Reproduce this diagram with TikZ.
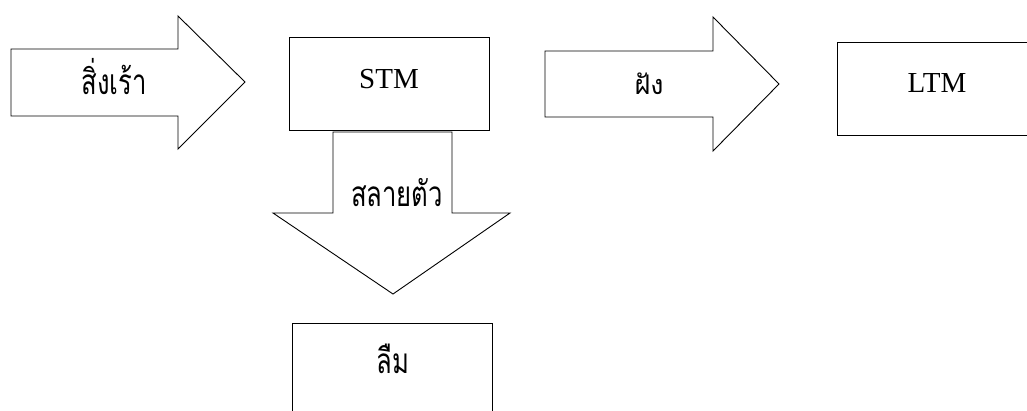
\documentclass[tikz,border=0pt]{standalone}
\usepackage{fontspec}
\setmainfont{Liberation Serif}
\newfontfamily\thaifont[Script=Thai]{Loma}
\newcommand{\tallthai}[1]{\scalebox{0.95}[1.3]{#1}}
\tikzset{
  shp/.style={draw=black, line width=0.9pt, fill=white, line join=miter},
  thai/.style={font=\thaifont\fontsize{27}{30}\selectfont, inner sep=0pt, anchor=base},
  lat/.style={font=\fontsize{29}{32}\selectfont, inner sep=0pt, anchor=base},
}
\begin{document}
\begin{tikzpicture}[x=1pt,y=-1pt]
\useasboundingbox (0,0) rectangle (1027,410);
\clip (0,0) rectangle (1027,410);
% left arrow
\draw[shp] (11,49) -- (178,49) -- (178,16) -- (245,82) -- (178,149) -- (178,116) -- (11,116) -- cycle;
\node[thai] (stim) at (114,94) {\tallthai{สิ่งเร้า}};
% STM box
\draw[shp] (289,37) rectangle (489,130);
\node[lat] (stm) at (389,88) {STM};
% middle arrow
\draw[shp] (545,51) -- (713,51) -- (713,17) -- (779,84) -- (713,151) -- (713,117) -- (545,117) -- cycle;
\node[thai] (fang) at (649,94) {ฝัง};
% LTM box
\draw[shp] (837,42) rectangle (1040,135);
\node[lat] (ltm) at (937,92) {LTM};
% down arrow
\draw[shp] (333,132) -- (452,132) -- (452,213) -- (510,213) -- (393,294) -- (273,213) -- (333,213) -- cycle;
\node[thai] (decay) at (397,206) {\tallthai{สลายตัว}};
% forget box
\draw[shp] (292,323) rectangle (492,430);
\node[thai] (forget) at (393,373) {\tallthai{ลืม}};
\end{tikzpicture}
\end{document}
